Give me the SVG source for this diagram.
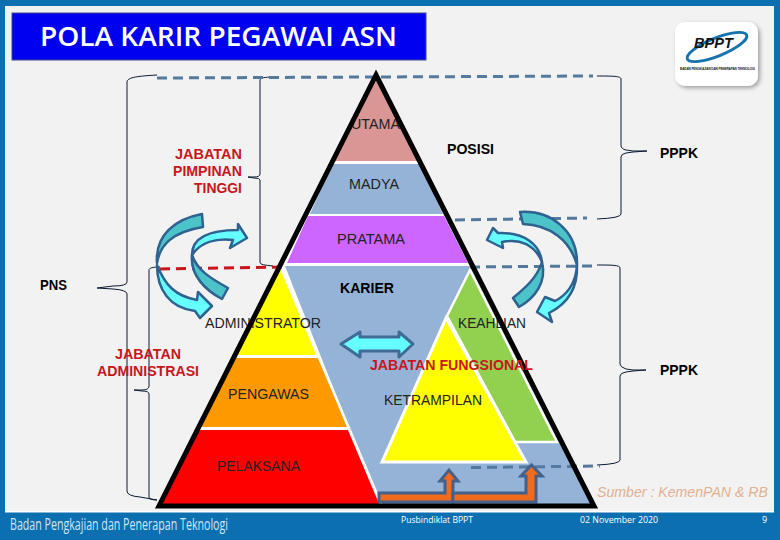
<svg xmlns="http://www.w3.org/2000/svg" width="780" height="540" viewBox="0 0 780 540">
<style>
text{font-family:"Liberation Sans",Arial,sans-serif}
.lbl{font-size:14px;fill:#222}
.blk{font-size:14px;font-weight:bold;fill:#000}
.red{font-size:14px;font-weight:bold;fill:#c8161d}
.brace{fill:none;stroke:#0a1a33;stroke-width:1}
.dash{fill:none;stroke:#54799f;stroke-width:3;stroke-dasharray:10 6}
.teal{fill:#4cc3c9;stroke:#2f6290;stroke-width:2.5;stroke-linejoin:round}
.cyan{fill:#66ffff;stroke:#2f6290;stroke-width:2.5;stroke-linejoin:round}
.orange{fill:#f26a1b;stroke:#44618c;stroke-width:3}
.foot{font-family:"Open Sans",sans-serif;font-size:9px;fill:#fff}
</style>
<defs>
<filter id="sh" x="-20%" y="-20%" width="140%" height="140%"><feDropShadow dx="2" dy="2" stdDeviation="2" flood-color="#000" flood-opacity=".35"/></filter>
</defs>
<g id="background">
<rect width="780" height="540" fill="#0b6fb0"/>
<rect x="5" y="6" width="769" height="506" fill="#f2f2f2"/>
<rect x="5" y="511" width="769" height="1.5" fill="#ffffff"/>
</g>
<g id="title">
<rect x="12" y="13" width="414" height="47" fill="#0000f0" stroke="#3a4f8a" stroke-width="1"/>
<text x="40" y="46" font-size="27" font-weight="600" fill="#fff" textLength="357" lengthAdjust="spacingAndGlyphs" style="font-family:'Open Sans',sans-serif">POLA KARIR PEGAWAI ASN</text>
</g>
<g id="logo">
<rect x="675" y="22" width="83" height="64" rx="10" fill="#fff" filter="url(#sh)"/>
<ellipse cx="717" cy="47" rx="32" ry="9" fill="none" stroke="#1673ad" stroke-width="3" transform="rotate(-22 717 47)"/>
<text x="694" y="48" font-size="14" font-weight="bold" font-style="italic" fill="#111" textLength="39" lengthAdjust="spacingAndGlyphs">BPPT</text>
<text x="680" y="70" font-size="3.200" font-weight="bold" fill="#222" textLength="75">BADAN PENGKAJIAN DAN PENERAPAN TEKNOLOGI</text>
</g>
<g id="pyramid-shapes">
<polygon points="376,75 594,506 159,506" fill="#fff"/>
<polygon points="376,73 418,161 333,161" fill="#d99694"/>
<polygon points="332,164 420,164 443,214 310,214" fill="#95b3d7"/>
<polygon points="308,216 444,216 468,263 287,263" fill="#cc66ff"/>
<polygon points="285,266 470,266 595,506 380,506" fill="#95b3d7"/>
</g>
<g id="node-administrator"><polygon points="281,268 316,355 237,355" fill="#ffff00"/></g>
<g id="node-pengawas"><polygon points="236,358 319,358 347,427 200,427" fill="#ff9900"/></g>
<g id="node-pelaksana"><polygon points="198,430 348,430 380,506 160,506" fill="#ff0000"/></g>
<path d="M281,268 L382,506" fill="none" stroke="#fff" stroke-width="2.5"/>
<g id="node-keahlian"><polygon points="470,270 557,442 515,442 447,316" fill="#92d050" stroke="#fff" stroke-width="2.5"/></g>
<g id="node-ketrampilan"><polygon points="446,318 526,462 382,462" fill="#ffff00" stroke="#fff" stroke-width="3"/></g>
<g id="connectors">
<path class="brace" d="M157,75 C140,76 127,77 127,82 V282 Q127,286 113,286 L97,288 L113,289 Q127,290 127,294 V491 Q127,496 140,497 L157,500"/>
<path class="brace" d="M273,77 C265,77 260,78 260,80 V174 Q260,177 254,177 L248,177 L254,178 Q260,178 260,180 V262 C260,265 265,265 273,266"/>
<path class="brace" d="M160,267 C153,267 149,268 149,270 V386 Q149,390 142,390 L134,390 L142,391 Q149,391 149,394 V497 Q149,500 157,500"/>
<path class="brace" d="M597,76 C612,76 621,76 621,79 V145 Q621,149 626,150 L633,151 L647,151 L633,152 L626,153 Q621,154 621,157 V214 Q621,218 597,219"/>
<path class="brace" d="M597,265 C612,265 620,265 620,268 V364 Q620,367 626,369 L633,370 L646,370 L633,371 L626,372 Q620,373 620,376 V460 Q620,464 597,465"/>
<path class="dash" d="M157,78 L593,76"/>
<path class="dash" d="M455,220 L587,218"/>
<path class="dash" d="M470,267 L597,266"/>
<path class="dash" d="M471,467.5 L600,466"/>
<path d="M160,269 L286,267" fill="none" stroke="#c8161d" stroke-width="3" stroke-dasharray="10 6"/>
</g>
<g id="arrows">
<path class="orange" d="M379,493 H445 V481 H440 L449,470 L458,481 H453 V502 H379 Z"/>
<path class="orange" d="M453,493 H526 V476 H521 L531.500,465 L542,476 H536 V502 H453 Z"/>
<path class="teal" d="M202,214 L203,227 C172,232 160,245 157,263 C155,235 175,219 202,214 Z"/>
<path class="cyan" d="M157,265 C165,285 175,296 197,300 L198,292 L212,306 L200,318 L195,311 C170,308 157,290 157,265 Z"/>
<path class="teal" d="M228,288 L222,299 C205,290 190,275 192,255 C197,270 210,278 228,288 Z"/>
<path class="cyan" d="M192,255 C192,240 205,230 238,230 L238,224 L247,238 L230,248 L233,240 C215,238 200,243 192,255 Z"/>
<path class="teal" d="M520,212 L523,224 C550,225 570,240 577,265 C578,230 550,210 520,212 Z"/>
<path class="cyan" d="M577,265 C576,285 565,296 555,301 L545,297 L537,312 L552,322 L549,313 C565,305 578,290 577,265 Z"/>
<path class="cyan" d="M542,262 C540,245 525,232 498,233 L493,228 L487,240 L503,248 L502,242 C520,238 535,245 542,262 Z"/>
<path class="teal" d="M542,262 C537,278 525,288 513,298 L519,307 C535,298 547,282 542,262 Z"/>
<path d="M341,344 L360,332 V337 H399 V332 L413,344 L399,357 V351 H360 V357 Z" fill="#66ffff" stroke="#3f6b96" stroke-width="3" stroke-linejoin="round"/>
</g>
<g id="labels">
<text class="lbl" x="351" y="129" textLength="49" lengthAdjust="spacingAndGlyphs">UTAMA</text>
<text class="lbl" x="349" y="189" textLength="50" lengthAdjust="spacingAndGlyphs">MADYA</text>
<text class="lbl" x="337" y="244" textLength="68" lengthAdjust="spacingAndGlyphs">PRATAMA</text>
<text class="lbl" x="205" y="328" textLength="116" lengthAdjust="spacingAndGlyphs">ADMINISTRATOR</text>
<text class="lbl" x="458" y="328" textLength="68" lengthAdjust="spacingAndGlyphs">KEAHLIAN</text>
<text class="lbl" x="228" y="399" textLength="81" lengthAdjust="spacingAndGlyphs">PENGAWAS</text>
<text class="lbl" x="384" y="405" textLength="98" lengthAdjust="spacingAndGlyphs">KETRAMPILAN</text>
<text class="lbl" x="217" y="471" textLength="83" lengthAdjust="spacingAndGlyphs">PELAKSANA</text>
</g>
<g id="pyramid-outline"><polygon points="376,75 594,506 159,506" fill="none" stroke="#000" stroke-width="5"/></g>
<g id="side-labels">
<text class="blk" x="340" y="293" textLength="54" lengthAdjust="spacingAndGlyphs">KARIER</text>
<text class="blk" x="447" y="154" textLength="47" lengthAdjust="spacingAndGlyphs">POSISI</text>
<text class="blk" x="660" y="158" textLength="38" lengthAdjust="spacingAndGlyphs">PPPK</text>
<text class="blk" x="660" y="375" textLength="38" lengthAdjust="spacingAndGlyphs">PPPK</text>
<text class="blk" x="40" y="290" textLength="27" lengthAdjust="spacingAndGlyphs">PNS</text>
<text class="red" x="175" y="159" textLength="67" lengthAdjust="spacingAndGlyphs">JABATAN</text>
<text class="red" x="173" y="176" textLength="69" lengthAdjust="spacingAndGlyphs">PIMPINAN</text>
<text class="red" x="194" y="193" textLength="48" lengthAdjust="spacingAndGlyphs">TINGGI</text>
<text class="red" x="115" y="359" textLength="66" lengthAdjust="spacingAndGlyphs">JABATAN</text>
<text class="red" x="97" y="376" textLength="102" lengthAdjust="spacingAndGlyphs">ADMINISTRASI</text>
<text class="red" x="370" y="370" textLength="163" lengthAdjust="spacingAndGlyphs">JABATAN FUNGSIONAL</text>
<text x="597" y="497" font-size="14" font-style="italic" fill="#dfb18f" textLength="171" lengthAdjust="spacingAndGlyphs">Sumber : KemenPAN &amp; RB</text>
</g>
<g id="footer">
<text x="10" y="530" font-size="17" fill="#cfe6f5" textLength="218" lengthAdjust="spacingAndGlyphs" style="font-family:'Open Sans',sans-serif">Badan Pengkajian dan Penerapan Teknologi</text>
<text class="foot" x="401" y="523" textLength="72" lengthAdjust="spacingAndGlyphs">Pusbindiklat BPPT</text>
<text class="foot" x="580" y="523" textLength="78" lengthAdjust="spacingAndGlyphs">02 November 2020</text>
<text class="foot" x="762" y="523">9</text>
</g>
</svg>
